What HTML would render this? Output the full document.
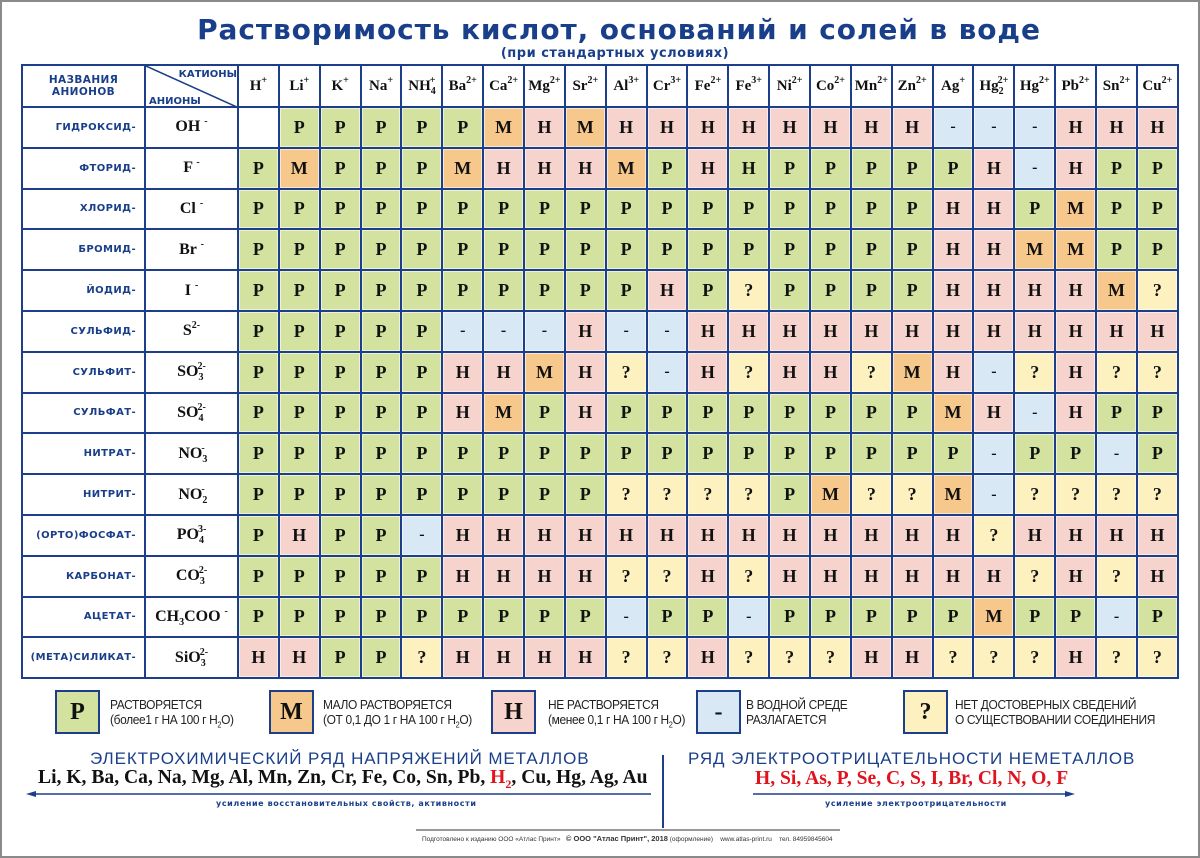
<!DOCTYPE html>
<html><head><meta charset="utf-8">
<style>
*{margin:0;padding:0;box-sizing:border-box}
body{width:1200px;height:858px;background:#fff;position:relative;overflow:hidden;font-family:"Liberation Sans",sans-serif}
.frame{position:absolute;left:0;top:0;width:1200px;height:858px;border:2px solid #8a8a8a}
.title{position:absolute;left:0;width:1238px;top:13px;text-align:center;font-family:"DejaVu Sans",sans-serif;font-weight:bold;font-size:28px;letter-spacing:.9px;color:#1a3f8a}
.sub{position:absolute;left:0;width:1230px;top:46px;text-align:center;font-family:"DejaVu Sans",sans-serif;font-weight:bold;font-size:13px;color:#1a3f8a;letter-spacing:.5px}
table{position:absolute;left:21px;top:64px;width:1156px;border-collapse:collapse;table-layout:fixed;border:2px solid #1d3e8a}
td{border:2px solid #1d3e8a;text-align:center;vertical-align:middle;font-family:"Liberation Serif",serif;font-weight:bold;font-size:18px;color:#111;height:40.8px;padding:0;box-shadow:inset 0 0 0 1px rgba(255,255,255,.55)}
tr.hd td{height:42px;font-size:15px;font-weight:bold;background:#fff;box-shadow:none}
td sup{font-size:10px;vertical-align:7px;line-height:0}
td sub{font-size:10px;vertical-align:-4px;line-height:0}
td.n{text-align:right;padding-right:8px;font-family:"DejaVu Sans",sans-serif;font-size:10px;color:#1a3f8a;letter-spacing:.4px;background:#fff;box-shadow:none;white-space:nowrap;overflow:hidden}
td.f{font-size:16px;background:#fff;box-shadow:none}
.p{background:#d4e29f}.m{background:#f7c88c}.h{background:#f6d3cd}.d{background:#d9e8f5}.q{background:#fdf1c0}.w{background:#fff}
td.d{font-size:16px}
.lb{position:absolute;width:45px;height:44px;border:2px solid #1d3e8a;top:690px;text-align:center;line-height:40px;font-family:"Liberation Serif",serif;font-weight:bold;font-size:24px;color:#111}
.lt{position:absolute;top:697px;font-size:13px;line-height:15px;color:#222;letter-spacing:-.4px;transform:scaleX(.92);transform-origin:left}
.lt sub{font-size:8px}
.st{position:absolute;top:749px;font-size:17px;color:#1a3f8a;letter-spacing:.9px;white-space:nowrap}
.ser{position:absolute;font-family:"Liberation Serif",serif;font-weight:bold;font-size:19.6px;color:#111;white-space:nowrap}
.ser sub{font-size:12px}
.sm{position:absolute;top:799px;font-family:"DejaVu Sans",sans-serif;font-weight:bold;font-size:8px;color:#1a3f8a;letter-spacing:.6px}
</style></head><body>
<div class="frame"></div>
<div class="title">Растворимость кислот, оснований и солей в воде</div>
<div class="sub">(при стандартных условиях)</div>
<table>
<colgroup><col style="width:123px"><col style="width:93px"><col span="23" style="width:40.87px"></colgroup>
<tr class="hd"><td class="n" style="text-align:center;padding:0;font-size:10.5px;line-height:12px">НАЗВАНИЯ<br>АНИОНОВ</td>
<td style="position:relative;padding:0"><svg width="93" height="42" style="position:absolute;left:0;top:0"><line x1="0" y1="0" x2="93" y2="42" stroke="#1d3e8a" stroke-width="1.5"/><text x="91" y="11" text-anchor="end" font-family="DejaVu Sans" font-weight="bold" font-size="10" fill="#1a3f8a">КАТИОНЫ</text><text x="3" y="38" font-family="DejaVu Sans" font-weight="bold" font-size="10" fill="#1a3f8a">АНИОНЫ</text></svg></td>
<td>H<sup>+</sup></td><td>Li<sup>+</sup></td><td>K<sup>+</sup></td><td>Na<sup>+</sup></td><td>NH<sub>4</sub><sup style="margin-left:-6px">+</sup></td><td>Ba<sup>2+</sup></td><td>Ca<sup>2+</sup></td><td>Mg<sup>2+</sup></td><td>Sr<sup>2+</sup></td><td>Al<sup>3+</sup></td><td>Cr<sup>3+</sup></td><td>Fe<sup>2+</sup></td><td>Fe<sup>3+</sup></td><td>Ni<sup>2+</sup></td><td>Co<sup>2+</sup></td><td>Mn<sup>2+</sup></td><td>Zn<sup>2+</sup></td><td>Ag<sup>+</sup></td><td>Hg<sub>2</sub><sup style="margin-left:-6px">2+</sup></td><td>Hg<sup>2+</sup></td><td>Pb<sup>2+</sup></td><td>Sn<sup>2+</sup></td><td>Cu<sup>2+</sup></td></tr>
<tr><td class="n">ГИДРОКСИД-</td><td class="f">OH <sup>-</sup></td><td class="w"></td><td class="p">Р</td><td class="p">Р</td><td class="p">Р</td><td class="p">Р</td><td class="p">Р</td><td class="m">М</td><td class="h">Н</td><td class="m">М</td><td class="h">Н</td><td class="h">Н</td><td class="h">Н</td><td class="h">Н</td><td class="h">Н</td><td class="h">Н</td><td class="h">Н</td><td class="h">Н</td><td class="d">-</td><td class="d">-</td><td class="d">-</td><td class="h">Н</td><td class="h">Н</td><td class="h">Н</td></tr>
<tr><td class="n">ФТОРИД-</td><td class="f">F <sup>-</sup></td><td class="p">Р</td><td class="m">М</td><td class="p">Р</td><td class="p">Р</td><td class="p">Р</td><td class="m">М</td><td class="h">Н</td><td class="h">Н</td><td class="h">Н</td><td class="m">М</td><td class="p">Р</td><td class="h">Н</td><td class="p">Н</td><td class="p">Р</td><td class="p">Р</td><td class="p">Р</td><td class="p">Р</td><td class="p">Р</td><td class="h">Н</td><td class="d">-</td><td class="h">Н</td><td class="p">Р</td><td class="p">Р</td></tr>
<tr><td class="n">ХЛОРИД-</td><td class="f">Cl <sup>-</sup></td><td class="p">Р</td><td class="p">Р</td><td class="p">Р</td><td class="p">Р</td><td class="p">Р</td><td class="p">Р</td><td class="p">Р</td><td class="p">Р</td><td class="p">Р</td><td class="p">Р</td><td class="p">Р</td><td class="p">Р</td><td class="p">Р</td><td class="p">Р</td><td class="p">Р</td><td class="p">Р</td><td class="p">Р</td><td class="h">Н</td><td class="h">Н</td><td class="p">Р</td><td class="m">М</td><td class="p">Р</td><td class="p">Р</td></tr>
<tr><td class="n">БРОМИД-</td><td class="f">Br <sup>-</sup></td><td class="p">Р</td><td class="p">Р</td><td class="p">Р</td><td class="p">Р</td><td class="p">Р</td><td class="p">Р</td><td class="p">Р</td><td class="p">Р</td><td class="p">Р</td><td class="p">Р</td><td class="p">Р</td><td class="p">Р</td><td class="p">Р</td><td class="p">Р</td><td class="p">Р</td><td class="p">Р</td><td class="p">Р</td><td class="h">Н</td><td class="h">Н</td><td class="m">М</td><td class="m">М</td><td class="p">Р</td><td class="p">Р</td></tr>
<tr><td class="n">ЙОДИД-</td><td class="f">I <sup>-</sup></td><td class="p">Р</td><td class="p">Р</td><td class="p">Р</td><td class="p">Р</td><td class="p">Р</td><td class="p">Р</td><td class="p">Р</td><td class="p">Р</td><td class="p">Р</td><td class="p">Р</td><td class="h">Н</td><td class="p">Р</td><td class="q">?</td><td class="p">Р</td><td class="p">Р</td><td class="p">Р</td><td class="p">Р</td><td class="h">Н</td><td class="h">Н</td><td class="h">Н</td><td class="h">Н</td><td class="m">М</td><td class="q">?</td></tr>
<tr><td class="n">СУЛЬФИД-</td><td class="f">S<sup>2-</sup></td><td class="p">Р</td><td class="p">Р</td><td class="p">Р</td><td class="p">Р</td><td class="p">Р</td><td class="d">-</td><td class="d">-</td><td class="d">-</td><td class="h">Н</td><td class="d">-</td><td class="d">-</td><td class="h">Н</td><td class="h">Н</td><td class="h">Н</td><td class="h">Н</td><td class="h">Н</td><td class="h">Н</td><td class="h">Н</td><td class="h">Н</td><td class="h">Н</td><td class="h">Н</td><td class="h">Н</td><td class="h">Н</td></tr>
<tr><td class="n">СУЛЬФИТ-</td><td class="f">SO<sub>3</sub><sup style="margin-left:-6px">2-</sup></td><td class="p">Р</td><td class="p">Р</td><td class="p">Р</td><td class="p">Р</td><td class="p">Р</td><td class="h">Н</td><td class="h">Н</td><td class="m">М</td><td class="h">Н</td><td class="q">?</td><td class="d">-</td><td class="h">Н</td><td class="q">?</td><td class="h">Н</td><td class="h">Н</td><td class="q">?</td><td class="m">М</td><td class="h">Н</td><td class="d">-</td><td class="q">?</td><td class="h">Н</td><td class="q">?</td><td class="q">?</td></tr>
<tr><td class="n">СУЛЬФАТ-</td><td class="f">SO<sub>4</sub><sup style="margin-left:-6px">2-</sup></td><td class="p">Р</td><td class="p">Р</td><td class="p">Р</td><td class="p">Р</td><td class="p">Р</td><td class="h">Н</td><td class="m">М</td><td class="p">Р</td><td class="h">Н</td><td class="p">Р</td><td class="p">Р</td><td class="p">Р</td><td class="p">Р</td><td class="p">Р</td><td class="p">Р</td><td class="p">Р</td><td class="p">Р</td><td class="m">М</td><td class="h">Н</td><td class="d">-</td><td class="h">Н</td><td class="p">Р</td><td class="p">Р</td></tr>
<tr><td class="n">НИТРАТ-</td><td class="f">NO<sub>3</sub><sup style="margin-left:-6px">-</sup></td><td class="p">Р</td><td class="p">Р</td><td class="p">Р</td><td class="p">Р</td><td class="p">Р</td><td class="p">Р</td><td class="p">Р</td><td class="p">Р</td><td class="p">Р</td><td class="p">Р</td><td class="p">Р</td><td class="p">Р</td><td class="p">Р</td><td class="p">Р</td><td class="p">Р</td><td class="p">Р</td><td class="p">Р</td><td class="p">Р</td><td class="d">-</td><td class="p">Р</td><td class="p">Р</td><td class="d">-</td><td class="p">Р</td></tr>
<tr><td class="n">НИТРИТ-</td><td class="f">NO<sub>2</sub><sup style="margin-left:-6px">-</sup></td><td class="p">Р</td><td class="p">Р</td><td class="p">Р</td><td class="p">Р</td><td class="p">Р</td><td class="p">Р</td><td class="p">Р</td><td class="p">Р</td><td class="p">Р</td><td class="q">?</td><td class="q">?</td><td class="q">?</td><td class="q">?</td><td class="p">Р</td><td class="m">М</td><td class="q">?</td><td class="q">?</td><td class="m">М</td><td class="d">-</td><td class="q">?</td><td class="q">?</td><td class="q">?</td><td class="q">?</td></tr>
<tr><td class="n">(ОРТО)ФОСФАТ-</td><td class="f">PO<sub>4</sub><sup style="margin-left:-6px">3-</sup></td><td class="p">Р</td><td class="h">Н</td><td class="p">Р</td><td class="p">Р</td><td class="d">-</td><td class="h">Н</td><td class="h">Н</td><td class="h">Н</td><td class="h">Н</td><td class="h">Н</td><td class="h">Н</td><td class="h">Н</td><td class="h">Н</td><td class="h">Н</td><td class="h">Н</td><td class="h">Н</td><td class="h">Н</td><td class="h">Н</td><td class="q">?</td><td class="h">Н</td><td class="h">Н</td><td class="h">Н</td><td class="h">Н</td></tr>
<tr><td class="n">КАРБОНАТ-</td><td class="f">CO<sub>3</sub><sup style="margin-left:-6px">2-</sup></td><td class="p">Р</td><td class="p">Р</td><td class="p">Р</td><td class="p">Р</td><td class="p">Р</td><td class="h">Н</td><td class="h">Н</td><td class="h">Н</td><td class="h">Н</td><td class="q">?</td><td class="q">?</td><td class="h">Н</td><td class="q">?</td><td class="h">Н</td><td class="h">Н</td><td class="h">Н</td><td class="h">Н</td><td class="h">Н</td><td class="h">Н</td><td class="q">?</td><td class="h">Н</td><td class="q">?</td><td class="h">Н</td></tr>
<tr><td class="n">АЦЕТАТ-</td><td class="f">CH<sub>3</sub>COO <sup>-</sup></td><td class="p">Р</td><td class="p">Р</td><td class="p">Р</td><td class="p">Р</td><td class="p">Р</td><td class="p">Р</td><td class="p">Р</td><td class="p">Р</td><td class="p">Р</td><td class="d">-</td><td class="p">Р</td><td class="p">Р</td><td class="d">-</td><td class="p">Р</td><td class="p">Р</td><td class="p">Р</td><td class="p">Р</td><td class="p">Р</td><td class="m">М</td><td class="p">Р</td><td class="p">Р</td><td class="d">-</td><td class="p">Р</td></tr>
<tr><td class="n">(МЕТА)СИЛИКАТ-</td><td class="f">SiO<sub>3</sub><sup style="margin-left:-6px">2-</sup></td><td class="h">Н</td><td class="h">Н</td><td class="p">Р</td><td class="p">Р</td><td class="q">?</td><td class="h">Н</td><td class="h">Н</td><td class="h">Н</td><td class="h">Н</td><td class="q">?</td><td class="q">?</td><td class="h">Н</td><td class="q">?</td><td class="q">?</td><td class="q">?</td><td class="h">Н</td><td class="h">Н</td><td class="q">?</td><td class="q">?</td><td class="q">?</td><td class="h">Н</td><td class="q">?</td><td class="q">?</td></tr>
</table>

<div class="lb p" style="left:55px">Р</div>
<div class="lt" style="left:110px">РАСТВОРЯЕТСЯ<br>(более1 г НА 100 г H<sub>2</sub>O)</div>
<div class="lb m" style="left:269px">М</div>
<div class="lt" style="left:323px">МАЛО РАСТВОРЯЕТСЯ<br>(ОТ 0,1 ДО 1 г НА 100 г H<sub>2</sub>O)</div>
<div class="lb h" style="left:491px">Н</div>
<div class="lt" style="left:548px">НЕ РАСТВОРЯЕТСЯ<br>(менее 0,1 г НА 100 г H<sub>2</sub>O)</div>
<div class="lb d" style="left:696px">-</div>
<div class="lt" style="left:746px">В ВОДНОЙ СРЕДЕ<br>РАЗЛАГАЕТСЯ</div>
<div class="lb q" style="left:903px">?</div>
<div class="lt" style="left:955px">НЕТ ДОСТОВЕРНЫХ СВЕДЕНИЙ<br>О СУЩЕСТВОВАНИИ СОЕДИНЕНИЯ</div>

<div class="st" style="left:90px">ЭЛЕКТРОХИМИЧЕСКИЙ РЯД НАПРЯЖЕНИЙ МЕТАЛЛОВ</div>
<div class="ser" style="left:38px;top:767px">Li, K, Ba, Ca, Na, Mg, Al, Mn, Zn, Cr, Fe, Co, Sn, Pb, <span style="color:#e0141e">H<sub>2</sub></span>, Cu, Hg, Ag, Au</div>
<svg style="position:absolute;left:0;top:0" width="1200" height="858">
<line x1="30" y1="794" x2="651" y2="794" stroke="#1d3e8a" stroke-width="1.5"/>
<polygon points="26,794 36,791 36,797" fill="#1d3e8a"/>
<line x1="663" y1="755" x2="663" y2="828" stroke="#1d3e8a" stroke-width="2"/>
<line x1="753" y1="794" x2="1070" y2="794" stroke="#1d3e8a" stroke-width="1.5"/>
<polygon points="1075,794 1065,791 1065,797" fill="#1d3e8a"/>
<line x1="416" y1="830" x2="840" y2="830" stroke="#999" stroke-width="2"/>
</svg>
<div class="sm" style="left:216px">усиление восстановительных свойств, активности</div>
<div class="st" style="left:688px">РЯД ЭЛЕКТРООТРИЦАТЕЛЬНОСТИ НЕМЕТАЛЛОВ</div>
<div class="ser" style="left:755px;top:768px;color:#e0141e">H, Si, As, P, Se, C, S, I, Br, Cl, N, O, F</div>
<div class="sm" style="left:825px">усиление электроотрицательности</div>
<div style="position:absolute;left:422px;top:834px;font-size:6.5px;color:#333;white-space:nowrap">Подготовлено к изданию ООО «Атлас Принт» &nbsp; <b style="font-size:7.5px">© ООО "Атлас Принт", 2018</b> (оформление) &nbsp;&nbsp; www.atlas-print.ru &nbsp;&nbsp; тел. 84959845604</div>
</body></html>
